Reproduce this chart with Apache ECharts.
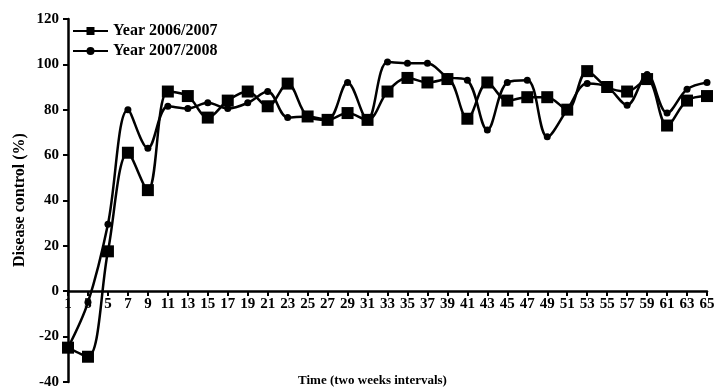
<!DOCTYPE html>
<html>
<head>
<meta charset="utf-8">
<script src="https://cdn.jsdelivr.net/npm/echarts@6/dist/echarts.min.js"></script>
<style>html,body{margin:0;padding:0;background:#fff}#c{width:718px;height:390px}</style>
</head>
<body>
<div id="c"></div>
<script>
const categories = ['1','3','5','7','9','11','13','15','17','19','21','23','25','27','29','31','33','35','37','39','41','43','45','47','49','51','53','55','57','59','61','63','65'];
const year0607 = [-25,-29,17.5,61,44.5,88,86,76.5,84,88,81.5,91.5,77,75.5,78.5,75.5,88,94,92,93.5,76,92,84,85.5,85.5,80,97,90,88,93.5,73,84,86];
const year0708 = [-25,-5,29.5,80,63,81.5,80.5,83,80.5,83,88,76.5,77,75.5,92,75.5,101,100.5,100.5,94.5,93,71,92,93,68,80,91.5,90,82,95.5,78.5,89,92];
const yUpper = {min: 0, max: 120, interval: 20};
const yLower = {min: -40, max: 0, interval: 20};
const yTitle = 'Disease control (%)';

const font = 'Liberation Serif, Times New Roman, serif';
const lbl = {fontFamily: font, fontSize: 15, fontWeight: 'bold', color: '#000'};
const axLine = {show: true, onZero: false, lineStyle: {color: '#000', width: 2.5}};
const axTick = {show: true, length: 5, lineStyle: {color: '#000', width: 2}};
const chart = echarts.init(document.getElementById('c'), null, {renderer: 'canvas'});
chart.setOption({
  animation: false,
  backgroundColor: '#fff',
  grid: [
    {left: 68, right: 11, top: 19, height: 272, containLabel: false, outerBoundsMode: 'none'},
    {left: 68, right: 11, top: 291, bottom: 8, containLabel: false, outerBoundsMode: 'none'}
  ],
  legend: {
    orient: 'vertical', left: 67, top: 18, itemWidth: 35, itemHeight: 10, itemGap: 4,
    textStyle: {fontFamily: font, fontSize: 16, fontWeight: 'bold', color: '#000'},
    data: ['Year 2006/2007', 'Year 2007/2008']
  },
  xAxis: [
    {
      gridIndex: 0, type: 'category', data: categories, boundaryGap: false,
      name: 'Time (two weeks intervals)', nameLocation: 'middle', nameGap: 83,
      nameTextStyle: {fontFamily: font, fontSize: 13, fontWeight: 'bold', color: '#000', padding: [0, 30, 0, 0]},
      axisLine: axLine,
      axisTick: Object.assign({alignWithLabel: true, interval: 0}, axTick),
      axisLabel: Object.assign({interval: 0, margin: 6}, lbl),
      splitLine: {show: false}
    },
    {
      gridIndex: 1, type: 'category', data: categories, boundaryGap: false, show: false
    }
  ],
  yAxis: [
    {
      gridIndex: 0, type: 'value', min: yUpper.min, max: yUpper.max, interval: yUpper.interval,
      axisLine: axLine, axisTick: axTick,
      axisLabel: Object.assign({margin: 9}, lbl),
      splitLine: {show: false}
    },
    {
      gridIndex: 1, type: 'value', min: yLower.min, max: yLower.max, interval: yLower.interval,
      axisLine: axLine, axisTick: axTick,
      axisLabel: Object.assign({margin: 9, showMaxLabel: false}, lbl),
      splitLine: {show: false}
    }
  ],
  graphic: [
    {
      type: 'text', x: 20, y: 200, rotation: Math.PI / 2,
      style: {text: yTitle, fontFamily: font, fontSize: 16, fontWeight: 'bold', fill: '#000',
              align: 'center', verticalAlign: 'middle'}
    }
  ],
  series: [
    {
      name: 'Year 2006/2007', type: 'line', xAxisIndex: 0, yAxisIndex: 0, data: year0607, smooth: 0.35, clip: false,
      symbol: 'rect', symbolSize: 12,
      lineStyle: {color: '#000', width: 2.5}, itemStyle: {color: '#000', borderWidth: 0}
    },
    {
      name: 'Year 2007/2008', type: 'line', xAxisIndex: 0, yAxisIndex: 0, data: year0708, smooth: 0.35, clip: false,
      symbol: 'circle', symbolSize: 7,
      lineStyle: {color: '#000', width: 2.5}, itemStyle: {color: '#000', borderWidth: 0}
    }
  ]
});
</script>
</body>
</html>
